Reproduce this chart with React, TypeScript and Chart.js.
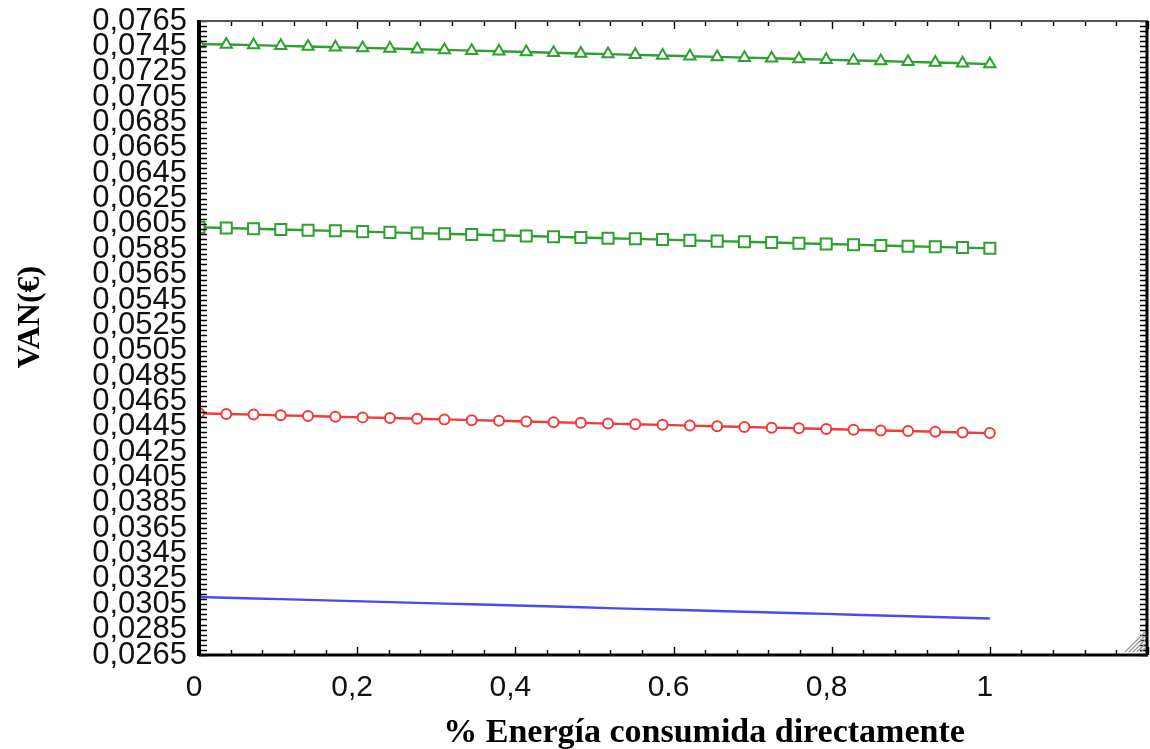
import React, { useEffect, useRef } from "react";
import { Chart, registerables } from "chart.js";

Chart.register(...registerables);

const xValues = [
  0, 0.0345, 0.069, 0.1034, 0.1379, 0.1724, 0.2069, 0.2414, 0.2759, 0.3103,
  0.3448, 0.3793, 0.4138, 0.4483, 0.4828, 0.5172, 0.5517, 0.5862, 0.6207, 0.6552,
  0.6897, 0.7241, 0.7586, 0.7931, 0.8276, 0.8621, 0.8966, 0.931, 0.9655, 1,
];

const triangleSeries = [
  0.07468, 0.07465, 0.0746, 0.07454, 0.07449, 0.07443, 0.07438, 0.07433, 0.07427, 0.07422,
  0.07416, 0.07411, 0.07405, 0.074, 0.07394, 0.07389, 0.07383, 0.07378, 0.07372, 0.07367,
  0.07361, 0.07356, 0.0735, 0.07345, 0.07339, 0.07334, 0.07328, 0.07323, 0.07317, 0.0731,
];

const squareSeries = [
  0.06023, 0.06018, 0.06012, 0.06006, 0.06, 0.05995, 0.05989, 0.05983, 0.05977, 0.05972,
  0.05966, 0.0596, 0.05955, 0.05949, 0.05943, 0.05937, 0.05932, 0.05926, 0.0592, 0.05914,
  0.05909, 0.05903, 0.05897, 0.05891, 0.05886, 0.0588, 0.05874, 0.05869, 0.05863, 0.05857,
];

const circleSeries = [
  0.04556, 0.04551, 0.04546, 0.0454, 0.04535, 0.04529, 0.04524, 0.04519, 0.04513, 0.04508,
  0.04502, 0.04497, 0.04492, 0.04486, 0.04481, 0.04475, 0.0447, 0.04465, 0.04459, 0.04454,
  0.04448, 0.04443, 0.04438, 0.04432, 0.04427, 0.04421, 0.04416, 0.04411, 0.04405, 0.044,
];

const lineSeries = [
  0.03108, 0.03102, 0.03096, 0.03091, 0.03085, 0.03079, 0.03073, 0.03067, 0.03061, 0.03055,
  0.0305, 0.03044, 0.03038, 0.03032, 0.03026, 0.0302, 0.03014, 0.03009, 0.03003, 0.02997,
  0.02991, 0.02985, 0.02979, 0.02974, 0.02968, 0.02962, 0.02956, 0.0295, 0.02944, 0.02938,
];

const yTicks = [
  0.0265, 0.0285, 0.0305, 0.0325, 0.0345, 0.0365, 0.0385, 0.0405, 0.0425, 0.0445,
  0.0465, 0.0485, 0.0505, 0.0525, 0.0545, 0.0565, 0.0585, 0.0605, 0.0625, 0.0645,
  0.0665, 0.0685, 0.0705, 0.0725, 0.0745, 0.0765,
];
const xTicks = [0, 0.2, 0.4, 0.6, 0.8, 1];
const xTickLabels = ["0", "0,2", "0,4", "0.6", "0,8", "1"];

const yTitle = "VAN(€)";
const xTitle = "% Energía consumida directamente";

const Y_MIN = 0.0265;
const Y_MAX = 0.0765;
const X_MIN = 0;
const X_MAX = 1.2;

const framePlugin = {
  id: "framePlugin",
  afterDatasetsDraw(chart: any) {
    const { ctx, chartArea } = chart;
    const { left, right, top, bottom } = chartArea;
    const xs = chart.scales.x;
    const ys = chart.scales.y;
    ctx.save();
    ctx.strokeStyle = "#000";
    ctx.lineWidth = 1.4;
    const nY = Math.round((Y_MAX - Y_MIN) / 0.0004);
    for (let k = 0; k <= nY; k++) {
      const py = Math.round(ys.getPixelForValue(Y_MIN + k * 0.0004)) + 0.5;
      ctx.beginPath();
      ctx.moveTo(left, py);
      ctx.lineTo(left + 8, py);
      ctx.moveTo(right, py);
      ctx.lineTo(right - 8, py);
      ctx.stroke();
    }
    const nX = Math.round((X_MAX - X_MIN) / 0.04);
    for (let k = 0; k <= nX; k++) {
      const px = Math.round(xs.getPixelForValue(X_MIN + k * 0.04)) + 0.5;
      const len = k % 5 === 0 ? 8 : 5;
      ctx.beginPath();
      ctx.moveTo(px, bottom);
      ctx.lineTo(px, bottom - len);
      ctx.moveTo(px, top);
      ctx.lineTo(px, top + len);
      ctx.stroke();
    }
    ctx.strokeStyle = "#555";
    ctx.lineWidth = 2;
    ctx.beginPath();
    ctx.moveTo(left, top);
    ctx.lineTo(right, top);
    ctx.stroke();
    ctx.strokeStyle = "#000";
    ctx.lineWidth = 4;
    ctx.beginPath();
    ctx.moveTo(left, top - 1);
    ctx.lineTo(left, bottom + 1);
    ctx.stroke();
    ctx.lineWidth = 3;
    ctx.beginPath();
    ctx.moveTo(left, bottom);
    ctx.lineTo(right, bottom);
    ctx.stroke();
    ctx.beginPath();
    ctx.moveTo(right - 1, top);
    ctx.lineTo(right - 1, bottom);
    ctx.stroke();
    ctx.strokeStyle = "#9a9a9a";
    ctx.lineWidth = 1.2;
    for (let i = 0; i < 5; i++) {
      const d = 4 + i * 4;
      ctx.beginPath();
      ctx.moveTo(right - 3 - d, bottom - 3);
      ctx.lineTo(right - 3, bottom - 3 - d);
      ctx.stroke();
    }
    ctx.restore();
  },
  afterDraw(chart: any) {
    const { ctx } = chart;
    ctx.save();
    ctx.fillStyle = "#000";
    ctx.font = "bold 34px 'Liberation Serif', 'Times New Roman', serif";
    ctx.textAlign = "center";
    ctx.textBaseline = "alphabetic";
    ctx.fillText(xTitle, 704, 742);
    ctx.translate(39, 317);
    ctx.rotate(-Math.PI / 2);
    ctx.font = "bold 32px 'Liberation Serif', 'Times New Roman', serif";
    ctx.fillText(yTitle, 0, 0);
    ctx.restore();
  },
};

const makePoints = (ys: number[]) => xValues.map((x, i) => ({ x, y: ys[i] }));

export default function App() {
  const canvasRef = useRef<HTMLCanvasElement | null>(null);

  useEffect(() => {
    document.body.style.margin = "0";
    const canvas = canvasRef.current;
    if (!canvas) return;
    const green = "#2f9f2f";
    const red = "#f23a3a";
    const blue = "#4a4af2";
    const clip = { left: 0, top: false, right: false, bottom: false };
    const chart = new Chart(canvas, {
      type: "line",
      data: {
        datasets: [
          {
            label: "triangle",
            data: makePoints(triangleSeries),
            borderColor: green,
            backgroundColor: "#ffffff",
            borderWidth: 2.4,
            pointStyle: "triangle",
            pointRadius: 6.5,
            pointBorderWidth: 2,
            pointBorderColor: green,
            pointBackgroundColor: "#ffffff",
            clip,
          } as any,
          {
            label: "square",
            data: makePoints(squareSeries),
            borderColor: green,
            backgroundColor: "#ffffff",
            borderWidth: 2.4,
            pointStyle: "rect",
            pointRadius: 7.8,
            pointBorderWidth: 2,
            pointBorderColor: green,
            pointBackgroundColor: "#ffffff",
            clip,
          } as any,
          {
            label: "circle",
            data: makePoints(circleSeries),
            borderColor: red,
            backgroundColor: "#ffffff",
            borderWidth: 2.4,
            pointStyle: "circle",
            pointRadius: 5,
            pointBorderWidth: 2,
            pointBorderColor: red,
            pointBackgroundColor: "#ffffff",
            clip,
          } as any,
          {
            label: "line",
            data: makePoints(lineSeries),
            borderColor: blue,
            borderWidth: 2.4,
            pointRadius: 0,
            clip,
          } as any,
        ],
      },
      options: {
        responsive: false,
        animation: false,
        devicePixelRatio: 1,
        layout: { autoPadding: false, padding: { top: 21, right: 2, left: 0, bottom: 0 } },
        plugins: {
          legend: { display: false },
          tooltip: { enabled: false },
          title: { display: false },
        },
        elements: { line: { tension: 0 } },
        scales: {
          x: {
            type: "linear",
            min: X_MIN,
            max: X_MAX,
            grid: { display: false, drawTicks: false },
            border: { display: false },
            afterBuildTicks: (scale: any) => {
              scale.ticks = xTicks.map((v) => ({ value: v }));
            },
            afterFit: (scale: any) => {
              scale.height = 94;
              scale.paddingLeft = 0;
              scale.paddingRight = 0;
            },
            ticks: {
              autoSkip: false,
              maxRotation: 0,
              padding: 15,
              labelOffset: -5,
              color: "#111",
              font: { family: "'Liberation Sans', Arial, sans-serif", size: 30 },
              callback: (v: any) => {
                const i = xTicks.findIndex((t) => Math.abs(t - Number(v)) < 1e-9);
                return i >= 0 ? xTickLabels[i] : "";
              },
            },
          },
          y: {
            type: "linear",
            min: Y_MIN,
            max: Y_MAX,
            grid: { display: false, drawTicks: false },
            border: { display: false },
            afterBuildTicks: (scale: any) => {
              scale.ticks = yTicks.map((v) => ({ value: v }));
            },
            afterFit: (scale: any) => {
              scale.width = 199;
              scale.paddingTop = 0;
              scale.paddingBottom = 0;
            },
            ticks: {
              autoSkip: false,
              padding: 12,
              color: "#111",
              font: { family: "'Liberation Sans', Arial, sans-serif", size: 31 },
              callback: (v: any) => Number(v).toFixed(4).replace(".", ","),
            },
          },
        },
      },
      plugins: [framePlugin],
    } as any);
    return () => chart.destroy();
  }, []);

  return (
    <div style={{ width: 1150, height: 749, background: "#fff" }}>
      <canvas ref={canvasRef} width={1150} height={749} style={{ display: "block" }} />
    </div>
  );
}
